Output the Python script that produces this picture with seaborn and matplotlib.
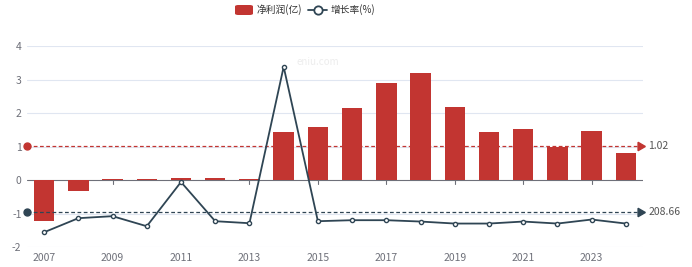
import matplotlib
matplotlib.use("Agg")
import matplotlib.pyplot as plt
import seaborn as sns
import pandas as pd
import numpy as np
from matplotlib.patches import FancyBboxPatch
from matplotlib.lines import Line2D

years = [str(y) for y in range(2007, 2025)]
profit = [-1.22, -0.33, 0.04, 0.02, 0.06, 0.06, 0.04, 1.42, 1.58, 2.15, 2.90, 3.20,
          2.18, 1.42, 1.53, 0.98, 1.46, 0.82]
growth = [-217, 77, 119, -91, 833, 14, -28, 3241, 14, 35, 35, 7, -35, -35, 7, -35, 49, -35]
profit_avg = 1.02
growth_avg = 208.66
left_ticks = [-2, -1, 0, 1, 2, 3, 4]
x_labels_shown = years[::2]

RED = "#C23531"
DARK = "#2F4554"
GRAY = "#6E7079"
GRID = "#E0E6F1"

sns.set_theme(style="white")
plt.rcParams['font.family'] = ['Noto Sans CJK SC', 'DejaVu Sans']

fig = plt.figure(figsize=(6.92, 2.67), dpi=100)
W, H = 692, 267
ax = fig.add_axes([27 / W, 1 - 247 / H, (643 - 27) / W, (247 - 46) / H])

df = pd.DataFrame({"year": years, "profit": profit, "growth": growth})
df["pos"] = np.arange(len(df))

sns.barplot(data=df, x="year", y="profit", ax=ax, color=RED, width=0.6,
            saturation=1, zorder=3, linewidth=0)
ax.set_xlim(-0.5, len(years) - 0.5)
ax.set_ylim(-2, 4)
ax.set_yticks(left_ticks)
ax.set_yticklabels([str(t) for t in left_ticks], color=GRAY, fontsize=7.5)
for t in left_ticks:
    if t != 0:
        ax.axhline(t, color=GRID, lw=0.8, zorder=0)
ax.axhline(0, color=GRAY, lw=0.8, zorder=2)
for i in range(0, len(years), 2):
    ax.plot([i, i], [0, -0.13], color=GRAY, lw=0.8, zorder=2, clip_on=False)

ax.set_xticks(range(0, len(years), 2))
ax.set_xticklabels(x_labels_shown, color=GRAY, fontsize=7.5)
ax.tick_params(axis='both', length=0, pad=4)
ax.set_xlabel("")
ax.set_ylabel("")
for s in ax.spines.values():
    s.set_visible(False)

# average mark line for profit
ax.plot([-0.5, len(years) - 0.5 - 0.15], [profit_avg, profit_avg], ls=(0, (3, 2)),
        color=RED, lw=0.9, zorder=5, clip_on=False)
ax.plot([-0.5], [profit_avg], marker='o', ms=5, color=RED, zorder=6, clip_on=False)
ax.plot([len(years) - 0.5 - 0.1], [profit_avg], marker=(3, 0, -90), ms=7, color=RED,
        zorder=6, clip_on=False)
ax.text(len(years) - 0.5 + 0.15, profit_avg, f"{profit_avg:.2f}", color="#555555",
        fontsize=7.5, va='center', ha='left')

# growth line on hidden secondary axis
ax2 = ax.twinx()
sns.lineplot(data=df, x="pos", y="growth", ax=ax2, color=DARK, lw=1.3, marker='o',
             markersize=3, markerfacecolor='white', markeredgecolor=DARK,
             markeredgewidth=1.0, zorder=5)
ax2.set_ylim(-525, 3675)
ax2.set_xlim(-0.5, len(years) - 0.5)
ax2.set_yticks([])
ax2.set_ylabel("")
ax2.set_xlabel("")
for s in ax2.spines.values():
    s.set_visible(False)
ax2.plot([-0.5, len(years) - 0.5 - 0.15], [growth_avg, growth_avg], ls=(0, (3, 2)),
         color=DARK, lw=0.9, zorder=4, clip_on=False)
ax2.plot([-0.5], [growth_avg], marker='o', ms=5, color=DARK, zorder=6, clip_on=False)
ax2.plot([len(years) - 0.5 - 0.1], [growth_avg], marker=(3, 0, -90), ms=7, color=DARK,
         zorder=6, clip_on=False)
ax2.text(len(years) - 0.5 + 0.15, growth_avg, f"{growth_avg:.2f}", color="#555555",
         fontsize=7.5, va='center', ha='left')

# watermark
fig.text(318 / W, 1 - 62 / H, "eniu.com", color="#EDEDED", fontsize=7, ha='center',
         va='center')

# legend
fig.patches.append(FancyBboxPatch((235 / W, 1 - 15 / H), 18 / W, 10 / H,
                                  boxstyle="round,pad=0,rounding_size=0.005",
                                  transform=fig.transFigure, facecolor=RED,
                                  edgecolor='none'))
fig.text(257 / W, 1 - 10 / H, "净利润(亿)", fontsize=7, color="#333333", va='center',
         ha='left')
fig.lines.append(Line2D([308 / W, 327 / W], [1 - 10 / H, 1 - 10 / H], color=DARK,
                        lw=1.3, transform=fig.transFigure))
fig.lines.append(Line2D([317.5 / W], [1 - 10 / H], marker='o', ms=6,
                        markerfacecolor='white', markeredgecolor=DARK,
                        markeredgewidth=1.3, transform=fig.transFigure))
fig.text(331 / W, 1 - 10 / H, "增长率(%)", fontsize=7, color="#333333", va='center',
         ha='left')

fig.savefig("out.png", dpi=100)
